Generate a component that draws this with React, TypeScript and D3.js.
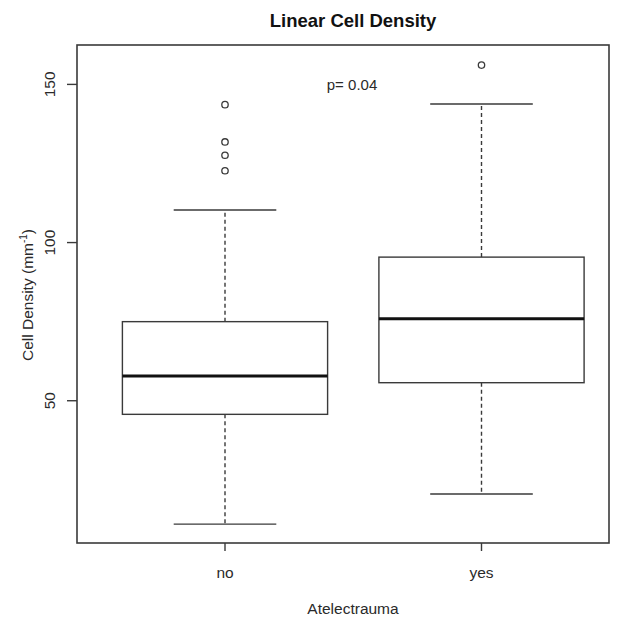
import React from "react";
import * as d3 from "d3";

const categories = ["no", "yes"];
const q1 = [45.7, 55.7];
const medians = [57.8, 75.9];
const q3 = [75.0, 95.4];
const whiskerLow = [11.0, 20.5];
const whiskerHigh = [110.3, 143.8];
const outliers = [[143.6, 131.8, 127.6, 122.7], [156.1]];
const yTicks = [50, 100, 150];

export default function App() {
  const W = 619, H = 618;
  const left = 77, right = 609, top = 45, bottom = 543;
  const y = d3.scaleLinear().domain([0, 150]).range([558.9, 84.4]);
  const x = d3.scaleLinear().domain([1, 2]).range([225, 481.5]);
  const unit = x(2) - x(1);
  const boxHalf = unit * 0.4;
  const capHalf = boxHalf / 2;
  const line = "#3a3a3a";
  const txt = "#2a2a2a";
  const font = "'Liberation Sans', Arial, sans-serif";
  return (
    <svg width={W} height={H} style={{ position: "absolute", left: 0, top: 0, background: "#fff" }} fontFamily={font}>
      <rect x={0} y={0} width={W} height={H} fill="#fff" />
      <text x={353} y={27} textAnchor="middle" fontWeight="bold" fontSize={18.5} fill="#111">Linear Cell Density</text>
      {categories.map((c, i) => {
        const cx = x(i + 1);
        return (
          <g key={c}>
            <line x1={cx} x2={cx} y1={y(q3[i])} y2={y(whiskerHigh[i])} stroke={line} strokeWidth={1.4} strokeDasharray="4,3" />
            <line x1={cx} x2={cx} y1={y(q1[i])} y2={y(whiskerLow[i])} stroke={line} strokeWidth={1.4} strokeDasharray="4,3" />
            <line x1={cx - capHalf} x2={cx + capHalf} y1={y(whiskerHigh[i])} y2={y(whiskerHigh[i])} stroke={line} strokeWidth={1.4} />
            <line x1={cx - capHalf} x2={cx + capHalf} y1={y(whiskerLow[i])} y2={y(whiskerLow[i])} stroke={line} strokeWidth={1.4} />
            <rect x={cx - boxHalf} y={y(q3[i])} width={boxHalf * 2} height={y(q1[i]) - y(q3[i])} fill="#fff" stroke={line} strokeWidth={1.4} />
            <line x1={cx - boxHalf} x2={cx + boxHalf} y1={y(medians[i])} y2={y(medians[i])} stroke="#111" strokeWidth={3} />
            {outliers[i].map((o, j) => (
              <circle key={j} cx={cx} cy={y(o)} r={3.2} fill="none" stroke={line} strokeWidth={1.3} />
            ))}
            <line x1={cx} x2={cx} y1={bottom} y2={bottom + 8} stroke={line} strokeWidth={1.4} />
            <text x={cx} y={578} textAnchor="middle" fontSize={15.5} fill={txt}>{c}</text>
          </g>
        );
      })}
      <rect x={left} y={top} width={right - left} height={bottom - top} fill="none" stroke={line} strokeWidth={1.6} />
      {yTicks.map((t) => (
        <g key={t}>
          <line x1={left - 10} x2={left} y1={y(t)} y2={y(t)} stroke={line} strokeWidth={1.4} />
          <text transform={`translate(${55},${y(t)}) rotate(-90)`} textAnchor="middle" fontSize={15.5} fill={txt}>{t}</text>
        </g>
      ))}
      <text transform={`translate(${33},${295}) rotate(-90)`} textAnchor="middle" fontSize={15.5} fill={txt}>
        Cell Density (mm<tspan dy={-6} fontSize={10}>-1</tspan><tspan dy={6}>)</tspan>
      </text>
      <text x={353} y={614} textAnchor="middle" fontSize={15.5} fill={txt}>Atelectrauma</text>
      <text x={352} y={90} textAnchor="middle" fontSize={15} fill={txt}>p= 0.04</text>
    </svg>
  );
}
